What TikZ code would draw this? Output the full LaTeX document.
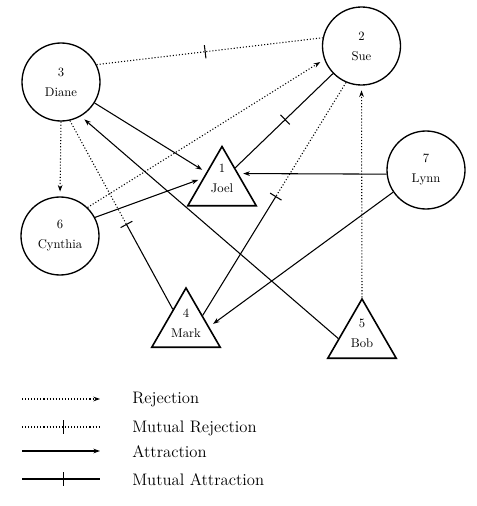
\documentclass[tikz,border=0pt]{standalone}
\usepackage{tikz}
\usetikzlibrary{
    arrows.meta,
    shapes,
    calc,
    decorations.markings,
    positioning
}

\tikzset{
    person/.style={draw, circle, line width=1pt, minimum size=58.5pt, inner sep=0pt, align=center, font=\fontsize{9.5}{15}\selectfont},
    tri/.style={draw, regular polygon, regular polygon sides=3, line width=1.2pt, minimum size=59.25pt, inner sep=0pt},
    lbl/.style={align=center, inner sep=0pt, font=\fontsize{9.5}{15}\selectfont},
    rej/.style={line width=0.8pt, dash pattern=on 0.8pt off 1.5pt},
    att/.style={line width=0.8pt},
    tip/.style={-{Stealth[length=5pt, width=3.5pt]}, shorten >=3.5pt},
    midtick/.style={postaction={decorate}, decoration={markings, mark=at position #1 with {\draw[solid, line width=0.8pt] (0,-5pt) -- (0,5pt);}}},
    legtext/.style={anchor=west, inner sep=0pt, font=\fontsize{12.5}{14}\selectfont}
}

\begin{document}
\begin{tikzpicture}[x=0.75pt, y=-0.75pt]
                        \useasboundingbox (0,0) rectangle (477,506);

                        % people
                        \node[person] (diane) at (61, 82) {3\\Diane};
                        \node[person] (sue) at (361.5, 46) {2\\Sue};
                        \node[person] (cynthia) at (60, 236) {6\\Cynthia};
                        \node[person] (lynn) at (426, 170) {7\\Lynn};
                        \node[tri] (joel) at (222, 186) {};
                        \node[tri] (mark) at (186, 327.5) {};
                        \node[tri] (bob) at (362, 338.5) {};
                        \node[lbl] (joellbl) at (222, 178.5) {1\\Joel};
                        \node[lbl] (marklbl) at (186, 323) {4\\Mark};
                        \node[lbl] (boblbl) at (362, 333.5) {5\\Bob};

                        \draw
                        (diane.26) edge[rej, midtick=.48] (sue.168)
                        (diane.-32) edge[att, tip] (joel.139)
                        (diane.-90) edge[rej, tip] (cynthia.90)
                        (bob.180) edge[att, tip] (diane.-60)
                        (cynthia.46) edge[rej, tip] (sue.200)
                        (cynthia.28) edge[att, tip] (joel.158)
                        (sue.224) edge[att, midtick=.49] (joel.54)
                        (lynn.186) edge[att, tip] (joel.37)
                        (lynn.214) edge[att, tip] (mark.2)
                        (bob.90) edge[rej, tip] (sue.-90);

                        % half rejection, half attraction
                        \path (diane.-77) -- coordinate[pos=.55] (dmt) (mark.126);
                        \draw[rej] (diane.-77) -- (dmt);
                        \draw[att] (dmt) -- (mark.126);
                        \draw[att] ($(dmt)!5pt!90:(mark.126)$) -- ($(dmt)!5pt!-90:(mark.126)$);

                        \path (sue.247) -- coordinate[pos=.49] (smt) (mark.36);
                        \draw[rej] (sue.247) -- (smt);
                        \draw[att] (smt) -- (mark.36);
                        \draw[att] ($(smt)!5pt!90:(mark.36)$) -- ($(smt)!5pt!-90:(mark.36)$);

                        % legend
                        \coordinate (rej1) at (22, 399);
                        \coordinate (rej2) at (100, 399);
                        \coordinate (mrej1) at (22, 427);
                        \coordinate (mrej2) at (100, 427);
                        \coordinate (att1) at (22, 451);
                        \coordinate (att2) at (100, 451);
                        \coordinate (matt1) at (22, 479);
                        \coordinate (matt2) at (100, 479);
                        \draw
                        (rej1) edge[rej, tip, shorten >=0pt] (rej2)
                        (mrej1) edge[rej, midtick=.53] (mrej2)
                        (att1) edge[att, tip, shorten >=0pt] (att2)
                        (matt1) edge[att, midtick=.53] (matt2);
                        \node[legtext] (rejtxt) at (132, 400) {Rejection};
                        \node[legtext] (mrejtxt) at (132, 428) {Mutual Rejection};
                        \node[legtext] (atttxt) at (132, 452) {Attraction};
                        \node[legtext] (matttxt) at (132, 480) {Mutual Attraction};
                    \end{tikzpicture}
\end{document}
